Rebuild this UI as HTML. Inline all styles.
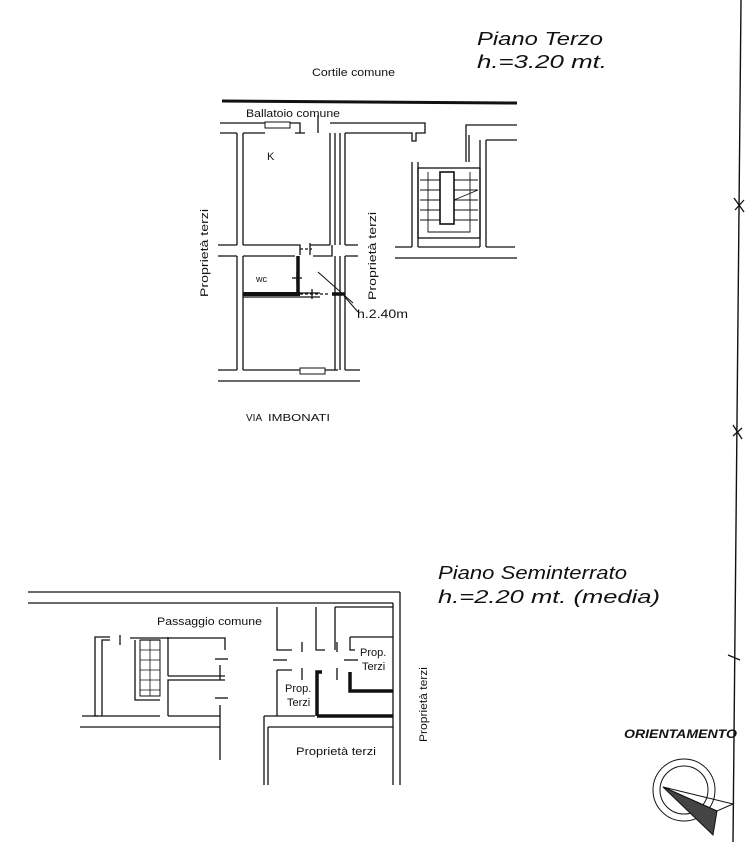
<!DOCTYPE html>
<html><head><meta charset="utf-8"><style>
html,body{margin:0;padding:0;background:#fff;}
svg{display:block}
text{font-family:"Liberation Sans",sans-serif;fill:#111}
</style></head><body>
<svg width="747" height="842" viewBox="0 0 747 842" xmlns="http://www.w3.org/2000/svg">
<g stroke="#111" fill="none" stroke-width="1.3">
<line x1="741" y1="0" x2="733" y2="842" stroke-width="1.4"/>
<line x1="734" y1="198" x2="744" y2="212"/><line x1="735" y1="210" x2="744" y2="200"/>
<line x1="733" y1="425" x2="742" y2="439"/><line x1="733" y1="436" x2="742" y2="428"/>
<line x1="728" y1="655" x2="740" y2="660"/>

<!-- ===== TOP PLAN ===== -->
<line x1="222" y1="101" x2="517" y2="103" stroke-width="3"/>
<path d="M220,123 H265 M290,123 H300 V133 H305 M318,123 V133 M330,123 H425 V133 H416 V141 H412 V133 H345"/>
<path d="M220,133 H237 M243,133 H265 M295,133 H300"/>
<rect x="265" y="122" width="25" height="6" stroke-width="1"/>
<line x1="318" y1="115" x2="318" y2="123"/>
<path d="M237,133 V245 M243,133 V245 M330,133 V245 M335,133 V245 M340,133 V245 M345,133 V245"/>
<path d="M218,245 H237 M243,245 H300 V255 M310,245 H330 M345,245 H358"/>
<path d="M218,256 H237 M243,256 H295 M313,256 H332 V245 M345,256 H358"/>
<path d="M237,256 V370 M243,256 V370 M335,256 V370 M340,256 V370 M345,256 V370"/>
<path d="M270,370 H300 M325,370 H338 M218,370 H237 M243,370 H270 M345,370 H360"/>
<path d="M218,381 H360"/>
<rect x="300" y="368" width="25" height="6" stroke-width="1"/>
<path d="M243,293 H320 M243,297 H320"/>
<line x1="243" y1="294" x2="300" y2="294" stroke-width="4"/>
<line x1="298" y1="256" x2="298" y2="296" stroke-width="3.5"/>
<line x1="332" y1="294" x2="345" y2="294" stroke-width="3.5"/>
<line x1="292" y1="278" x2="302" y2="278"/><line x1="297" y1="272" x2="297" y2="284"/>
<line x1="300" y1="249" x2="312" y2="249" stroke-dasharray="3,2"/><line x1="310" y1="243" x2="310" y2="255"/>
<line x1="300" y1="294" x2="330" y2="294" stroke-dasharray="3,2"/><line x1="312" y1="289" x2="312" y2="299"/>
<line x1="318" y1="272" x2="353" y2="303" stroke-width="1"/>
<line x1="344" y1="296" x2="358" y2="312" stroke-width="1"/>
<path d="M466,162 V125 H517 M469,162 V135 M480,140 V247 M486,140 H517 M486,140 V247"/>
<path d="M412,162 V247 M418,162 V247 M395,247 H412 M418,247 H480 M486,247 H515"/>
<line x1="395" y1="258" x2="517" y2="258"/>
<rect x="418" y="168" width="62" height="70"/>
<rect x="440" y="172" width="14" height="52" stroke-width="1.6"/>
<g stroke-width="0.9">
<path d="M420,180 H440 M420,190 H440 M420,200 H440 M420,210 H440 M420,220 H440 M454,180 H478 M454,190 H478 M454,200 H478 M454,210 H478 M454,220 H478"/>
<path d="M428,172 V232 H470 V172 M454,200 L478,190"/>
</g>

<!-- ===== BOTTOM PLAN ===== -->
<path d="M28,592 H400 M28,603 H393 M393,603 V785 M400,592 V785"/>
<path d="M98,716 H95 V637 H110 M102,716 V640 H110 M120,635 V645 M130,638 H225 V650 M135,640 V700 H160 M140,640 H160"/>
<path d="M82,716 H160 M168,716 V680 H225 M168,676 V637 M168,676 H225 M220,665 V680"/>
<path d="M168,716 H220 M220,705 V760 M80,727 H220"/>
<line x1="215" y1="659" x2="228" y2="659"/><line x1="215" y1="698" x2="228" y2="698"/>
<rect x="140" y="640" width="20" height="56" stroke-width="1"/>
<path d="M140,650 H160 M140,660 H160 M140,670 H160 M140,680 H160 M140,690 H160 M150,640 V696" stroke-width="0.8"/>
<path d="M277,607 V650 H292 M277,670 V716 M277,670 H292 M316,607 V650 H325 M335,607 H393 M335,607 V650 M350,637 H393 M350,637 V650 H355"/>
<path d="M264,716 H277 M264,716 V785 M268,727 V785 M268,727 H393 M277,716 H315"/>
<line x1="273" y1="660" x2="287" y2="660"/>
<line x1="302" y1="642" x2="302" y2="652"/><line x1="337" y1="642" x2="337" y2="652"/>
<line x1="302" y1="668" x2="302" y2="680"/><line x1="337" y1="668" x2="337" y2="680"/>
<line x1="344" y1="660" x2="358" y2="660"/>
<path d="M317,716 V672 H322 M317,716 H393 M350,672 V691 H393" stroke-width="3.5"/>

<circle cx="684" cy="790" r="31" stroke-width="1"/>
<circle cx="684" cy="790" r="24" stroke-width="1"/>
<path d="M663,787 L733,804 L717,811 Z" stroke-width="1"/>
<path d="M663,787 L717,811 L713,835 Z" fill="#444" stroke-width="1"/>
</g>
<g stroke="none">
<text x="312" y="76" font-size="11" textLength="83" lengthAdjust="spacingAndGlyphs">Cortile comune</text>
<text x="246" y="117" font-size="11" textLength="94" lengthAdjust="spacingAndGlyphs">Ballatoio comune</text>
<text x="267" y="160" font-size="11">K</text>
<text x="256" y="282" font-size="9">wc</text>
<text x="357" y="318" font-size="12" textLength="51" lengthAdjust="spacingAndGlyphs">h.2.40m</text>
<text x="246" y="421" font-size="10">VIA</text><text x="268" y="421" font-size="10" textLength="62" lengthAdjust="spacingAndGlyphs">IMBONATI</text>
<text transform="translate(208,297) rotate(-90)" font-size="11" textLength="88" lengthAdjust="spacingAndGlyphs">Proprietà terzi</text>
<text transform="translate(376,300) rotate(-90)" font-size="11" textLength="88" lengthAdjust="spacingAndGlyphs">Proprietà terzi</text>
<text x="477" y="45" font-size="18" font-style="italic" textLength="126" lengthAdjust="spacingAndGlyphs">Piano  Terzo</text>
<text x="477" y="68" font-size="18" font-style="italic" textLength="130" lengthAdjust="spacingAndGlyphs">h.=3.20  mt.</text>
<text x="438" y="579" font-size="18" font-style="italic" textLength="189" lengthAdjust="spacingAndGlyphs">Piano  Seminterrato</text>
<text x="438" y="603" font-size="18" font-style="italic" textLength="222" lengthAdjust="spacingAndGlyphs">h.=2.20  mt. (media)</text>
<text x="157" y="625" font-size="11" textLength="105" lengthAdjust="spacingAndGlyphs">Passaggio comune</text>
<text x="360" y="656" font-size="11">Prop.</text><text x="362" y="670" font-size="11">Terzi</text>
<text x="285" y="692" font-size="11">Prop.</text><text x="287" y="706" font-size="11">Terzi</text>
<text x="296" y="755" font-size="11" textLength="80" lengthAdjust="spacingAndGlyphs">Proprietà  terzi</text>
<text transform="translate(427,742) rotate(-90)" font-size="11" textLength="75" lengthAdjust="spacingAndGlyphs">Proprietà terzi</text>
<text x="624" y="738" font-size="12" font-style="italic" font-weight="bold" textLength="113" lengthAdjust="spacingAndGlyphs">ORIENTAMENTO</text>
</g>
</svg>
</body></html>
